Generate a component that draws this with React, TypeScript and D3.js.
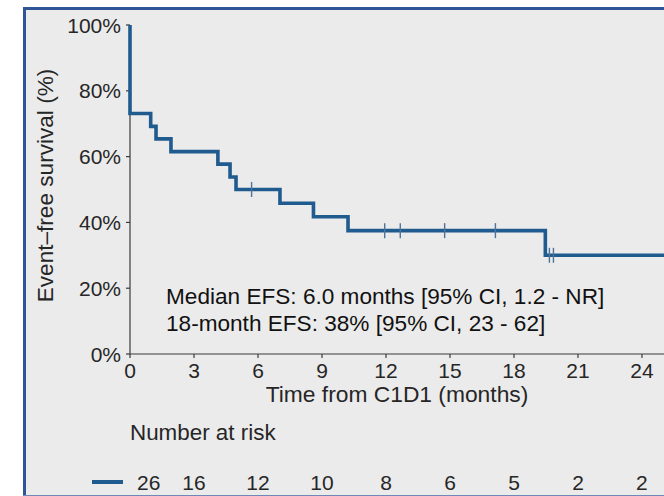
import React from "react";
import * as d3 from "d3";

const eventTimes = [0, 0.97, 1.22, 1.92, 4.12, 4.69, 4.97, 7.03, 8.6, 10.22, 19.47];
const survivalAfter = [73.1, 69.2, 65.4, 61.5, 57.7, 53.8, 50.0, 45.8, 41.7, 37.5, 30.0];
const censorTimes = [5.7, 11.94, 12.67, 14.75, 17.13, 19.66, 19.85];
const xTicks = [0, 3, 6, 9, 12, 15, 18, 21, 24];
const yTicks = [0, 20, 40, 60, 80, 100];
const riskTimes = [0, 3, 6, 9, 12, 15, 18, 21, 24];
const riskCounts = [26, 16, 12, 10, 8, 6, 5, 2, 2];
const annotationLines = [
  "Median EFS: 6.0 months [95% CI, 1.2 - NR]",
  "18-month EFS: 38% [95% CI, 23 - 62]",
];

const W = 664;
const H = 496;
const FONT = "'Liberation Sans', Arial, Helvetica, sans-serif";
const TEXT = "#262626";
const CURVE = "#1f5b8e";

export default function App() {
  const x = d3.scaleLinear().domain([0, 25]).range([130, 663.3]);
  const y = d3.scaleLinear().domain([0, 100]).range([354, 25]);
  const tMax = 25.1;

  const pts: [number, number][] = [[0, 100]];
  eventTimes.forEach((t, i) => pts.push([t, survivalAfter[i]]));
  pts.push([tMax, survivalAfter[survivalAfter.length - 1]]);
  const line = d3
    .line<[number, number]>()
    .x((d) => x(d[0]))
    .y((d) => y(d[1]))
    .curve(d3.curveStepAfter);

  const survAt = (t: number) => {
    let s = 100;
    eventTimes.forEach((et, i) => {
      if (et <= t) s = survivalAfter[i];
    });
    return s;
  };

  return (
    <svg
      width={W}
      height={H}
      style={{ position: "absolute", left: 0, top: 0, fontFamily: FONT }}
    >
      <rect x={0} y={0} width={W} height={H} fill="#ffffff" />
      <rect x={24} y={8} width={W - 24} height={H - 8} fill="#ebebeb" />
      {/* frame */}
      <line x1={24.5} x2={24.5} y1={7} y2={496} stroke="#2f5597" strokeWidth={3} />
      <line x1={23} x2={W} y1={8.5} y2={8.5} stroke="#2f5597" strokeWidth={3} />
      <line x1={23} x2={W} y1={495.5} y2={495.5} stroke="#6f88b8" strokeWidth={1.2} />

      {/* y axis */}
      <line x1={130} x2={130} y1={y(100)} y2={y(0)} stroke="#3a3a3a" strokeWidth={1.2} />
      {yTicks.map((v) => (
        <g key={v}>
          <line x1={126} x2={130} y1={y(v)} y2={y(v)} stroke="#3a3a3a" strokeWidth={1.2} />
          <text
            x={121}
            y={y(v)}
            dy="0.36em"
            textAnchor="end"
            fontSize={21}
            fill={TEXT}
          >
            {v}%
          </text>
        </g>
      ))}
      <text
        transform={`translate(53,${y(50) - 4}) rotate(-90)`}
        textAnchor="middle"
        fontSize={22.6}
        fill={TEXT}
      >
        Event–free survival (%)
      </text>

      {/* x axis */}
      <line x1={130} x2={W} y1={y(0)} y2={y(0)} stroke="#3a3a3a" strokeWidth={1.2} />
      {xTicks.map((v) => (
        <g key={v}>
          <line x1={x(v)} x2={x(v)} y1={y(0)} y2={y(0) + 4} stroke="#3a3a3a" strokeWidth={1.2} />
          <text x={x(v)} y={378} textAnchor="middle" fontSize={21} fill={TEXT}>
            {v}
          </text>
        </g>
      ))}
      <text x={(x(0) + W) / 2} y={402} textAnchor="middle" fontSize={22.8} fill={TEXT}>
        Time from C1D1 (months)
      </text>

      {/* curve */}
      <path d={line(pts) || ""} fill="none" stroke={CURVE} strokeWidth={3.6} strokeLinejoin="miter" />
      {censorTimes.map((t, i) => (
        <line
          key={i}
          x1={x(t)}
          x2={x(t)}
          y1={y(survAt(t)) - 7.5}
          y2={y(survAt(t)) + 7.5}
          stroke="#4f739b"
          strokeWidth={1.4}
        />
      ))}

      {/* annotation */}
      {annotationLines.map((s, i) => (
        <text key={i} x={166} y={304 + i * 27} fontSize={22.6} fill="#111">
          {s}
        </text>
      ))}

      {/* risk table */}
      <text x={130} y={440} fontSize={22.4} fill={TEXT}>
        Number at risk
      </text>
      <line x1={92} x2={123} y1={482} y2={482} stroke={CURVE} strokeWidth={4} />
      {riskCounts.map((n, i) => (
        <text
          key={i}
          x={i === 0 ? x(riskTimes[i]) + 7 : x(riskTimes[i])}
          y={490}
          textAnchor={i === 0 ? "start" : "middle"}
          fontSize={21}
          fill={TEXT}
        >
          {n}
        </text>
      ))}
    </svg>
  );
}
